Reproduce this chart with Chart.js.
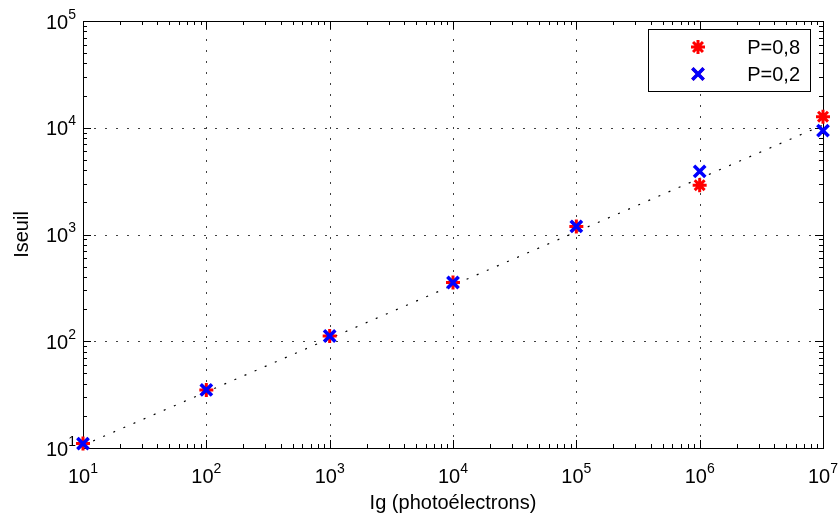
<!DOCTYPE html>
<html>
<head>
<meta charset="utf-8">
<script src="https://cdn.jsdelivr.net/npm/chart.js@4.4.1/dist/chart.umd.min.js"></script>
<style>
  html, body { margin: 0; padding: 0; background: #fff; }
  canvas { display: block; }
</style>
</head>
<body>
<canvas id="seuilChart" width="839" height="520"></canvas>
<script>
// data
const igValues = [10, 100, 1000, 10000, 100000, 1000000, 10000000];
const seuilP08 = [11, 35, 112, 355, 1190, 2900, 12700];
const seuilP02 = [11, 35, 112, 355, 1190, 3900, 9400];
const trendIg = [10, 10000000];
const trendSeuil = [10.6, 10600];
const xDecades = [1, 2, 3, 4, 5, 6, 7];
const yDecades = [1, 2, 3, 4, 5];
const seriesLabels = ['P=0,8', 'P=0,2'];
const xTitle = 'Ig (photoélectrons)';
const yTitle = 'Iseuil';

const FONT = '"Liberation Sans", Arial, Helvetica, sans-serif';
const RED = '#ff0000';
const BLUE = '#0000ff';

function toPoints(xs, ys) {
    return xs.map((x, i) => ({ x: x, y: ys[i] }));
}

// draws "10" with a raised exponent; y is the baseline of "10"
function drawPow(ctx, exp, x, y, align) {
    ctx.font = '20px ' + FONT;
    const wBase = ctx.measureText('10').width;
    ctx.font = '14px ' + FONT;
    const wExp = ctx.measureText(String(exp)).width;
    const total = wBase + wExp;
    let start = align === 'right' ? x - total : x - total / 2;
    ctx.textAlign = 'left';
    ctx.textBaseline = 'alphabetic';
    ctx.fillStyle = '#000';
    ctx.font = '20px ' + FONT;
    ctx.fillText('10', start, y);
    ctx.font = '14px ' + FONT;
    ctx.fillText(String(exp), start + wBase, y - 10);
}

const axesPlugin = {
    id: 'matlabAxes',
    beforeDatasetsDraw(chart) {
        const { ctx, chartArea: a, scales } = chart;
        const xs = scales.x, ys = scales.y;
        ctx.save();
        // dotted grid at decades
        ctx.strokeStyle = 'rgba(0,0,0,0.75)';
        ctx.lineWidth = 1;
        ctx.setLineDash([2, 9]);
        xDecades.slice(1, -1).forEach(d => {
            const px = Math.round(xs.getPixelForValue(Math.pow(10, d))) + 0.5;
            ctx.beginPath(); ctx.moveTo(px, a.bottom); ctx.lineTo(px, a.top); ctx.stroke();
        });
        yDecades.slice(1, -1).forEach(d => {
            const py = Math.round(ys.getPixelForValue(Math.pow(10, d))) + 0.5;
            ctx.beginPath(); ctx.moveTo(a.left, py); ctx.lineTo(a.right, py); ctx.stroke();
        });
        ctx.setLineDash([]);

        // box
        ctx.strokeStyle = '#000';
        ctx.lineWidth = 1;
        ctx.strokeRect(Math.round(a.left) + 0.5, Math.round(a.top) + 0.5,
            Math.round(a.right - a.left), Math.round(a.bottom - a.top));

        // ticks, pointing inward on all four sides
        const tick = (px, len, horizontal) => {
            ctx.beginPath();
            if (horizontal) {
                const p = Math.round(px) + 0.5;
                ctx.moveTo(p, a.bottom); ctx.lineTo(p, a.bottom - len);
                ctx.moveTo(p, a.top); ctx.lineTo(p, a.top + len);
            } else {
                const p = Math.round(px) + 0.5;
                ctx.moveTo(a.left, p); ctx.lineTo(a.left + len, p);
                ctx.moveTo(a.right, p); ctx.lineTo(a.right - len, p);
            }
            ctx.stroke();
        };
        xDecades.forEach((d, i) => {
            tick(xs.getPixelForValue(Math.pow(10, d)), 8, true);
            if (i < xDecades.length - 1) {
                for (let k = 2; k < 10; k++) tick(xs.getPixelForValue(k * Math.pow(10, d)), 4, true);
            }
        });
        yDecades.forEach((d, i) => {
            tick(ys.getPixelForValue(Math.pow(10, d)), 8, false);
            if (i < yDecades.length - 1) {
                for (let k = 2; k < 10; k++) tick(ys.getPixelForValue(k * Math.pow(10, d)), 4, false);
            }
        });
        ctx.restore();
    },
    afterDraw(chart) {
        const { ctx, chartArea: a, scales } = chart;
        ctx.save();
        // tick labels
        xDecades.forEach(d => {
            drawPow(ctx, d, xs(d), a.bottom + 35, 'center');
        });
        function xs(d) { return scales.x.getPixelForValue(Math.pow(10, d)); }
        yDecades.forEach(d => {
            drawPow(ctx, d, a.left - 7, scales.y.getPixelForValue(Math.pow(10, d)) + 7.5, 'right');
        });

        // axis titles
        ctx.fillStyle = '#000';
        ctx.font = '20px ' + FONT;
        ctx.textAlign = 'center';
        ctx.textBaseline = 'alphabetic';
        ctx.fillText(xTitle, (a.left + a.right) / 2, 509);
        ctx.save();
        ctx.translate(28, (a.top + a.bottom) / 2);
        ctx.rotate(-Math.PI / 2);
        ctx.fillText(yTitle, 0, 0);
        ctx.restore();

        // legend box
        const bx = 648, by = 29, bw = 162, bh = 62;
        ctx.fillStyle = '#fff';
        ctx.fillRect(bx, by, bw, bh);
        ctx.strokeStyle = '#000';
        ctx.lineWidth = 1;
        ctx.strokeRect(bx + 0.5, by + 0.5, bw, bh);
        const rows = [47, 74];
        chart.data.datasets.slice(0, 2).forEach((ds, i) => {
            Chart.helpers.drawPoint(ctx, {
                pointStyle: ds.pointStyle,
                radius: ds.pointRadius,
                borderWidth: ds.pointBorderWidth,
                rotation: 0
            }, 698, rows[i]);
            ctx.strokeStyle = ds.borderColor;
            ctx.fillStyle = ds.borderColor;
            ctx.lineWidth = ds.pointBorderWidth;
            ctx.stroke();
            ctx.fillStyle = '#000';
            ctx.font = '20px ' + FONT;
            ctx.textAlign = 'right';
            ctx.textBaseline = 'middle';
            ctx.fillText(seriesLabels[i], 800, rows[i] + 1);
        });
        ctx.restore();
    }
};

new Chart(document.getElementById('seuilChart'), {
    type: 'scatter',
    data: {
        datasets: [{
            label: seriesLabels[0],
            data: toPoints(igValues, seuilP08),
            pointStyle: 'star',
            pointRadius: 7,
            pointBorderWidth: 3,
            borderColor: RED,
            backgroundColor: RED,
            clip: false,
            order: 2
        }, {
            label: seriesLabels[1],
            data: toPoints(igValues, seuilP02),
            pointStyle: 'crossRot',
            pointRadius: 8,
            pointBorderWidth: 3.5,
            borderColor: BLUE,
            backgroundColor: BLUE,
            clip: false,
            order: 1
        }, {
            label: 'trend',
            data: toPoints(trendIg, trendSeuil),
            showLine: true,
            borderColor: '#000',
            borderWidth: 1.2,
            borderDash: [2, 9],
            pointRadius: 0,
            order: 3
        }]
    },
    options: {
        responsive: false,
        animation: false,
        devicePixelRatio: 1,
        layout: { padding: { left: 83, top: 21, right: 16, bottom: 72 } },
        scales: {
            x: { type: 'logarithmic', min: 10, max: 10000000, display: false },
            y: { type: 'logarithmic', min: 10, max: 100000, display: false }
        },
        plugins: {
            legend: { display: false },
            tooltip: { enabled: false }
        }
    },
    plugins: [axesPlugin]
});
</script>
</body>
</html>
